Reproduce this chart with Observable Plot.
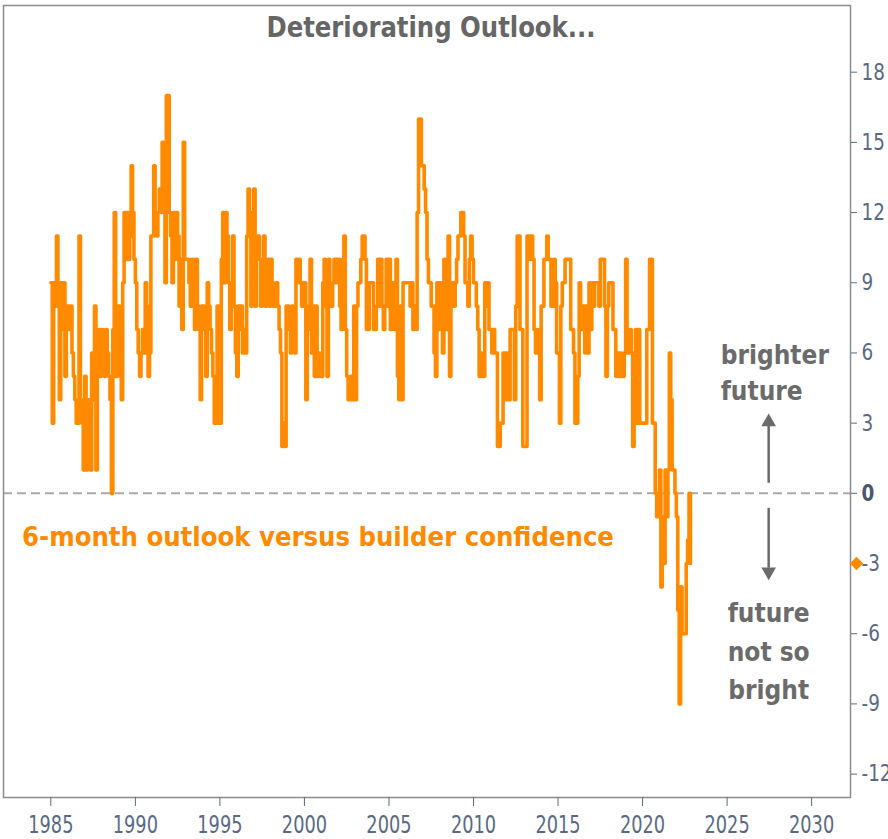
<!DOCTYPE html>
<html><head><meta charset="utf-8">
<script src="https://cdn.jsdelivr.net/npm/d3@7"></script>
<script src="https://cdn.jsdelivr.net/npm/@observablehq/plot@0.6"></script>
<style>body{margin:0;background:#fff}svg{display:block}</style>
</head><body><div id="chart"></div>
<script>
// Monthly values (6-month outlook minus current builder confidence), starting Jan 1985
const startYear = 1985;
const v1985_1989 = [
  9, 3, 9, 8, 11, 9, 4, 9, 7, 9, 5, 8,
  8, 7, 8, 6, 5, 4, 3, 3, 11, 4, 3, 1,
  5, 1, 4, 3, 1, 6, 4, 8, 1, 6, 7, 5,
  7, 6, 5, 7, 6, 5, 4, 0, 7, 12, 5, 8,
  8, 5, 4, 9, 12, 10, 12, 10, 11, 14, 12, 10];
const v1990_1994 = [
  9, 7, 6, 5, 6, 7, 6, 9, 8, 5, 6, 11,
  11, 14, 12, 11, 12, 13, 12, 15, 13, 9, 17, 17,
  12, 11, 9, 12, 10, 12, 11, 8, 10, 7, 15, 10,
  10, 10, 9, 8, 10, 9, 7, 10, 8, 7, 4, 8,
  8, 7, 5, 9, 8, 7, 6, 5, 3, 3, 8, 3];
const v1995_1999 = [
  3, 10, 12, 9, 12, 11, 9, 7, 8, 11, 8, 6,
  5, 8, 7, 8, 6, 7, 6, 11, 13, 12, 8, 10,
  13, 8, 10, 11, 10, 8, 9, 11, 8, 9, 10, 8,
  10, 9, 8, 8, 9, 8, 7, 6, 2, 3, 2, 8,
  8, 7, 6, 8, 7, 6, 10, 9, 10, 9, 8, 9];
const v2000_2004 = [
  9, 4, 7, 8, 10, 6, 8, 5, 8, 5, 6, 5,
  5, 9, 10, 8, 5, 10, 8, 8, 9, 10, 9, 10,
  10, 8, 7, 10, 11, 7, 5, 4, 4, 5, 4, 8,
  4, 8, 9, 9, 10, 11, 11, 10, 7, 7, 9, 9,
  9, 7, 7, 8, 10, 8, 10, 8, 7, 8, 10, 8];
const v2005_2009 = [
  10, 7, 9, 8, 7, 10, 5, 4, 8, 4, 9, 9,
  9, 9, 9, 8, 9, 7, 8, 7, 12, 16, 16, 14,
  14, 13, 12, 10, 9, 9, 8, 8, 6, 5, 9, 7,
  9, 7, 6, 10, 7, 7, 11, 5, 9, 9, 8, 9,
  10, 11, 11, 12, 12, 11, 9, 9, 8, 10, 11, 10];
const v2010_2014 = [
  9, 9, 8, 7, 5, 6, 5, 5, 9, 8, 9, 7,
  7, 6, 7, 6, 6, 2, 2, 3, 3, 6, 6, 4,
  6, 4, 7, 7, 7, 4, 8, 11, 11, 7, 7, 2,
  2, 2, 11, 11, 10, 11, 10, 7, 6, 7, 6, 4,
  8, 8, 10, 10, 11, 10, 10, 8, 8, 10, 9, 6];
const v2015_2019 = [
  6, 3, 8, 9, 9, 10, 10, 10, 10, 7, 7, 6,
  3, 3, 5, 9, 8, 7, 8, 6, 8, 6, 9, 7,
  9, 8, 9, 9, 9, 8, 10, 10, 10, 8, 5, 8,
  9, 9, 9, 7, 7, 5, 6, 5, 6, 5, 5, 6,
  10, 6, 6, 7, 6, 2, 3, 7, 3, 7, 3, 3];
const v2020_2022 = [
  3, 3, 3, 7, 7, 10, 10, 3, 3, 0, -1, 0,
  1, -4, -1, -3, 1, -1, 1, 6, 4, 1, 1, 0,
  -1, -5, -9, -4, -6, -6, -6, -3, -2, 0, -3];

const xTicks = [1985, 1990, 1995, 2000, 2005, 2010, 2015, 2020, 2025, 2030];
const yTicks = [-12, -9, -6, -3, 0, 3, 6, 9, 12, 15, 18];
const titleText = ["Deteriorating Outlook..."];
const seriesLabel = ["6-month outlook versus builder confidence"];
const upLabel = ["brighter\nfuture"];
const downLabel = ["future\nnot so\nbright"];

const values = [].concat(v1985_1989, v1990_1994, v1995_1999, v2000_2004, v2005_2009, v2010_2014, v2015_2019, v2020_2022);
const data = values.map((v, i) => ({t: startYear + i / 12, v}));
const lastValue = values[values.length - 1];

const arrowX = 2027.46;
const shafts = [{y1: 0.43, y2: 2.9}, {y1: -0.64, y2: -3.2}];
const heads = [{y: 3.05, rot: 0}, {y: -3.35, rot: 180}];

const gray = "#6b6b6b";
const orange = "#ff8a00";
const tickColor = "#5a6a84";

const chart = Plot.plot({
  width: 888, height: 839,
  marginLeft: 3, marginRight: 38, marginTop: 5, marginBottom: 42,
  x: {domain: [1982.2, 2032.3]},
  y: {domain: [-13, 20.85]},
  style: {fontFamily: "DejaVu Sans, sans-serif", background: "#fff"},
  marks: [
    Plot.ruleY([0], {stroke: "#a9a9a9", strokeWidth: 2, strokeDasharray: "9,5"}),
    Plot.line(data, {x: "t", y: "v", stroke: orange, strokeWidth: 3.6, curve: "step-after"}),
    Plot.frame({stroke: "#8c8c8c", strokeWidth: 1.5}),
    Plot.axisX(xTicks, {anchor: "bottom", tickSize: 9, tickPadding: 9, tickFormat: d => String(d), fontSize: 24, color: tickColor, label: null}),
    Plot.axisY(yTicks, {anchor: "right", tickSize: 6, tickPadding: 5, tickFormat: d => d === 0 ? "" : String(d), fontSize: 23, color: tickColor, label: null}),
    Plot.text([0], {y: d => d, frameAnchor: "right", dx: 11, textAnchor: "start", text: d => String(d), fontSize: 23, fontWeight: "bold", fill: "#4a566b", ariaDescription: "zerolabel"}),
    Plot.dot([lastValue], {y: d => d, frameAnchor: "right", dx: 6, symbol: "diamond2", r: 6, fill: orange}),
    Plot.text(titleText, {frameAnchor: "top", dy: 12, dx: 4, fontSize: 28, fontWeight: "bold", fill: "#666666", ariaDescription: "title"}),
    Plot.text(seriesLabel, {x: 1983.3, y: -1.9, textAnchor: "start", fontSize: 26, fontWeight: "bold", fill: orange, ariaDescription: "serieslabel"}),
    Plot.text(upLabel, {x: 2024.62, y: 5.26, textAnchor: "start", fontSize: 26, lineHeight: 1.38, fontWeight: "bold", fill: gray, ariaDescription: "annot"}),
    Plot.text(downLabel, {x: 2027.46, y: -6.62, fontSize: 26, lineHeight: 1.48, fontWeight: "bold", fill: gray, ariaDescription: "annot"}),
    Plot.ruleX(shafts, {x: () => arrowX, y1: "y1", y2: "y2", stroke: gray, strokeWidth: 2.5}),
    Plot.dot(heads, {x: () => arrowX, y: "y", rotate: "rot", symbol: "triangle2", r: 7, fill: gray, stroke: "none"})
  ]
});

document.getElementById("chart").appendChild(chart);

// Narrow the glyphs horizontally around each text's own anchor point
function squeeze(label, s) {
  chart.querySelectorAll(`g[aria-label="${label}"] text, g[aria-description="${label}"] text`).forEach(t => {
    const xa = t.getAttribute("x");
    const x = xa && /^-?[\d.]+$/.test(xa.trim()) ? parseFloat(xa) : 0;
    const tr = t.getAttribute("transform") || "";
    t.setAttribute("transform", `${tr} translate(${x * (1 - s)},0) scale(${s},1)`);
  });
}
squeeze("x-axis tick label", 0.74);
squeeze("y-axis tick label", 0.8);
squeeze("zerolabel", 0.8);
squeeze("title", 0.87);
squeeze("serieslabel", 0.94);
squeeze("annot", 0.9);
</script>
</body></html>
